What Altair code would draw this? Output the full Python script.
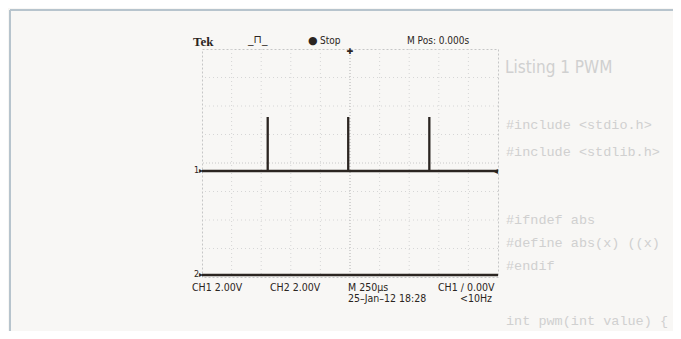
import altair as alt
import pandas as pd

# ---- data (time in microseconds, screen volts; 250 us/div, 2 V/div) ----
ch1_t = [-1250, -695, -695, -695, -15, -15, -15, 670, 670, 670, 1250]
ch1_v = [-0.56, -0.56, 3.23, -0.56, -0.56, 3.23, -0.56, -0.56, 3.23, -0.56, -0.56]
ch2_t = [-1250, 1250]
ch2_v = [-7.86, -7.86]
grid_t = [-1000, -750, -500, -250, 250, 500, 750, 1000]
grid_v = [-6, -4, -2, 2, 4, 6]

top_labels = ["Tek", "Stop", "M Pos: 0.000s"]
bottom_row1 = ["CH1  2.00V", "CH2  2.00V", "M 250\u00b5s", "CH1 \u2215 0.00V"]
bottom_row2 = ["25\u2013Jan\u201312 18:28", "<10Hz"]
page_title = "Listing 1 PWM"
page_lines = ["#include <stdio.h>", "#include <stdlib.h>", "#ifndef abs",
              "#define abs(x) ((x)", "#endif", "int pwm(int value) {"]

ch1 = pd.DataFrame({"t": ch1_t, "v": ch1_v, "i": list(range(len(ch1_t)))})
ch2 = pd.DataFrame({"t": ch2_t, "v": ch2_v, "i": list(range(len(ch2_t)))})
gx = pd.DataFrame({"t": grid_t})
gy = pd.DataFrame({"v": grid_v})
one = pd.DataFrame({"a": [0]})

xs = alt.Scale(domain=[-1250, 1250], nice=False, zero=False)
ys = alt.Scale(domain=[-8, 8], nice=False, zero=False)

INK = "#2b2521"
NARROW = "Liberation Sans Narrow, DejaVu Sans Condensed, Liberation Sans, sans-serif"


def txt(s, x, y, size=10, font=NARROW, weight="normal", color=INK, align="left"):
    return alt.Chart(one).mark_text(
        text=s, fontSize=size, font=font, fontWeight=weight, color=color,
        align=align, baseline="middle"
    ).encode(x=alt.value(x), y=alt.value(y))


def rule(x, x2, y, y2, color, w):
    return alt.Chart(one).mark_rule(color=color, strokeWidth=w).encode(
        x=alt.value(x), x2=alt.value(x2), y=alt.value(y), y2=alt.value(y2))


# graticule
vgrid = alt.Chart(gx).mark_rule(color="#d6d6d6", strokeDash=[1, 3], strokeWidth=1).encode(
    x=alt.X("t:Q", scale=xs, axis=None))
hgrid = alt.Chart(gy).mark_rule(color="#d6d6d6", strokeDash=[1, 3], strokeWidth=1).encode(
    y=alt.Y("v:Q", scale=ys, axis=None))
vcenter = alt.Chart(pd.DataFrame({"t": [0]})).mark_rule(
    color="#b0b0b0", strokeDash=[1, 2], strokeWidth=1).encode(x=alt.X("t:Q", scale=xs, axis=None))
hcenter = alt.Chart(pd.DataFrame({"v": [0]})).mark_rule(
    color="#c8c8c8", strokeDash=[1, 2], strokeWidth=1).encode(y=alt.Y("v:Q", scale=ys, axis=None))

line1 = alt.Chart(ch1).mark_line(color=INK, strokeWidth=2.3).encode(
    x=alt.X("t:Q", scale=xs, axis=None),
    y=alt.Y("v:Q", scale=ys, axis=None),
    order="i:Q")
line2 = alt.Chart(ch2).mark_line(color=INK, strokeWidth=2.6).encode(
    x=alt.X("t:Q", scale=xs, axis=None),
    y=alt.Y("v:Q", scale=ys, axis=None),
    order="i:Q")

# page decoration (relative to plot origin at page px 202,49)
page_border = rule(-192, 479, -39, -39, "#b7c4cd", 2) + rule(-192, -192, -39, 290, "#b7c4cd", 2)

SHOW = "#d0d0d0"
MONO = "Liberation Mono, DejaVu Sans Mono, monospace"
showthrough = txt(page_title, 303, 19, size=17, font=NARROW, color=SHOW)
for s, yy in zip(page_lines, [76, 103, 171, 194, 217, 272]):
    showthrough = showthrough + txt(s, 304, yy, size=13.5, font=MONO, color=SHOW)

labels = (
    txt(top_labels[0], -9, -7, size=13, font="Liberation Serif, DejaVu Serif, serif", weight="bold")
    + txt("_\u2293_", 46, -9, size=11, font="DejaVu Sans")
    + txt("\u25cf", 106, -8, size=11, font="DejaVu Sans")
    + txt(top_labels[1], 118, -8, size=10)
    + txt(top_labels[2], 205, -8, size=10)
    + txt("\u271a", 148, 3, size=8, font="DejaVu Sans", align="center")
    + txt("1\u25b8", 1, 122, size=8, font="DejaVu Sans", align="right")
    + txt("2\u25b8", 1, 226, size=8, font="DejaVu Sans", align="right")
    + txt("\u25c2", 291, 122, size=10, font="DejaVu Sans", align="left")
    + txt(bottom_row1[0], -10, 239, size=10.5)
    + txt(bottom_row1[1], 68, 239, size=10.5)
    + txt(bottom_row1[2], 146, 239, size=10.5)
    + txt(bottom_row1[3], 236, 239, size=10.5)
    + txt(bottom_row2[0], 146, 250, size=10.5)
    + txt(bottom_row2[1], 258, 250, size=10.5)
)

chart = alt.layer(
    page_border, showthrough, vgrid, hgrid, vcenter, hcenter, line2, line1, labels
).properties(
    width=296, height=228,
    autosize=alt.AutoSizeParams(type="none"),
    padding={"left": 194, "top": 41, "right": 175, "bottom": 54},
    background="#f8f7f5",
).configure_view(
    stroke="#c6c6c6", strokeDash=[2, 2], strokeWidth=1
)

chart.save("out.html", embed_options={"renderer": "svg", "actions": False})
